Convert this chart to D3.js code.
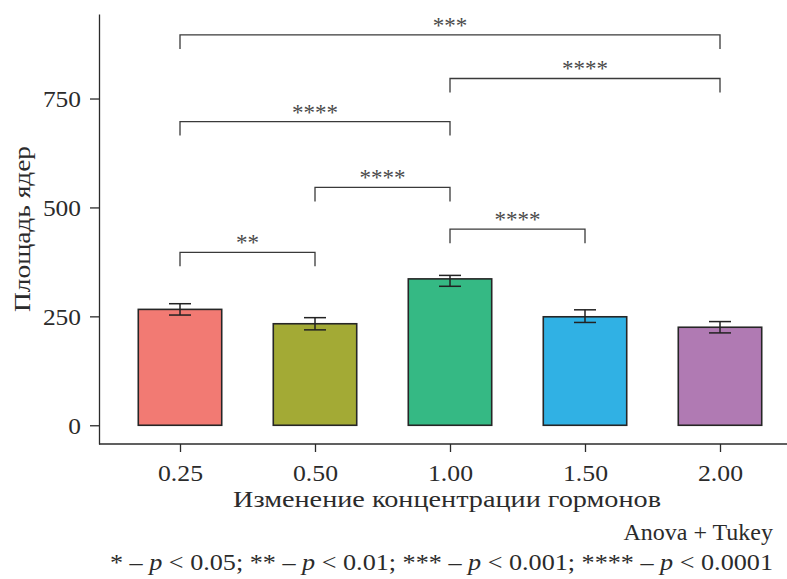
<!DOCTYPE html>
<html>
<head>
<meta charset="utf-8">
<script src="https://cdn.jsdelivr.net/npm/d3@7"></script>
<style>
  html, body { margin: 0; padding: 0; background: #fff; }
  svg { display: block; }
  text { font-family: "Liberation Serif", "DejaVu Serif", serif; }
</style>
</head>
<body>
<svg id="chart" width="787" height="579"></svg>
<script>
// ---- data ----
const categories = ["0.25", "0.50", "1.00", "1.50", "2.00"];
const means = [266, 233, 336, 249, 225];
const errLow = [253, 219, 319, 236, 212];
const errHigh = [279, 247, 344, 265, 238];
const barColors = ["#F27A73", "#A3AA35", "#35B984", "#30B1E4", "#B07AB3"];
const yTicks = [0, 250, 500, 750];

const bracketFrom = ["0.25", "1.00", "0.25", "0.50", "1.00", "0.25"];
const bracketTo = ["2.00", "2.00", "1.00", "1.00", "1.50", "0.50"];
const bracketY = [896, 796, 697, 546, 450, 397];
const bracketLabel = ["***", "****", "****", "****", "****", "**"];

const yTitle = "Площадь ядер";
const xTitle = "Изменение концентрации гормонов";
const testNote = "Anova + Tukey";
const pNote = "* – p < 0.05; ** – p < 0.01; *** – p < 0.001; **** – p < 0.0001";

// ---- layout ----
const svg = d3.select("#chart");
const axisX0 = 99, axisX1 = 787, axisY0 = 444, axisTop = 14;

const y = d3.scaleLinear().domain([-43, 944]).range([axisY0, axisTop]);
const x = d3.scalePoint().domain(categories).range([180, 720]);
const step = x.step();
const barW = step * 0.618;

const ink = "#2b2b2b";

// bars
svg.append("g").selectAll("rect").data(categories).join("rect")
  .attr("x", d => x(d) - barW / 2)
  .attr("y", (d, i) => y(means[i]))
  .attr("width", barW)
  .attr("height", (d, i) => y(0) - y(means[i]))
  .attr("fill", (d, i) => barColors[i])
  .attr("stroke", "#262626")
  .attr("stroke-width", 1.6);

// error bars
const capW = 22;
const eg = svg.append("g").attr("stroke", "#222").attr("stroke-width", 1.5);
categories.forEach((c, i) => {
  const cx = x(c);
  eg.append("line").attr("x1", cx).attr("x2", cx).attr("y1", y(errLow[i])).attr("y2", y(errHigh[i]));
  eg.append("line").attr("x1", cx - capW / 2).attr("x2", cx + capW / 2).attr("y1", y(errLow[i])).attr("y2", y(errLow[i]));
  eg.append("line").attr("x1", cx - capW / 2).attr("x2", cx + capW / 2).attr("y1", y(errHigh[i])).attr("y2", y(errHigh[i]));
});

// brackets
const tip = 14;
const bg = svg.append("g");
bracketY.forEach((v, i) => {
  const x1 = x(bracketFrom[i]), x2 = x(bracketTo[i]), yy = y(v);
  bg.append("path")
    .attr("d", `M${x1},${yy + tip}V${yy}H${x2}V${yy + tip}`)
    .attr("fill", "none").attr("stroke", "#3a3a3a").attr("stroke-width", 1.3);
  bg.append("text")
    .attr("x", (x1 + x2) / 2).attr("y", yy - 2)
    .attr("text-anchor", "middle")
    .attr("font-size", 23).attr("fill", "#4a4a4a")
    .text(bracketLabel[i]);
});

// y axis
const yAxis = svg.append("g").attr("transform", `translate(${axisX0},0)`)
  .call(d3.axisLeft(y).tickValues(yTicks).tickSize(9).tickSizeOuter(0).tickPadding(9));
yAxis.select(".domain").attr("stroke", ink).attr("stroke-width", 1.3);
yAxis.selectAll(".tick line").attr("stroke", ink).attr("stroke-width", 1.3);
yAxis.selectAll(".tick text").attr("font-size", 24).attr("fill", ink)
  .attr("dy", "0.35em")
  .attr("textLength", d => String(d).length * 12.7)
  .attr("lengthAdjust", "spacingAndGlyphs");

// x axis
const xAxis = svg.append("g").attr("transform", `translate(0,${axisY0})`)
  .call(d3.axisBottom(x).tickSize(8).tickSizeOuter(0).tickPadding(13));
xAxis.select(".domain").remove();
xAxis.append("line").attr("x1", axisX0).attr("x2", axisX1).attr("y1", 0).attr("y2", 0)
  .attr("stroke", ink).attr("stroke-width", 1.3);
xAxis.selectAll(".tick line").attr("stroke", ink).attr("stroke-width", 1.3);
xAxis.selectAll(".tick text").attr("font-size", 23).attr("fill", ink)
  .attr("dy", "0.71em")
  .attr("textLength", 45)
  .attr("lengthAdjust", "spacingAndGlyphs");

// titles
svg.append("text")
  .attr("transform", `translate(30,${(axisTop + axisY0) / 2}) rotate(-90)`)
  .attr("text-anchor", "middle").attr("font-size", 24).attr("fill", ink)
  .attr("textLength", 166).attr("lengthAdjust", "spacingAndGlyphs")
  .text(yTitle);

svg.append("text")
  .attr("x", 447).attr("y", 507)
  .attr("text-anchor", "middle").attr("font-size", 24).attr("fill", ink)
  .attr("textLength", 428).attr("lengthAdjust", "spacingAndGlyphs")
  .text(xTitle);

svg.append("text")
  .attr("x", 773).attr("y", 540)
  .attr("text-anchor", "end").attr("font-size", 24).attr("fill", ink)
  .text(testNote);

const pn = svg.append("text")
  .attr("x", 110).attr("y", 570)
  .attr("text-anchor", "start").attr("font-size", 24).attr("fill", ink)
  .attr("textLength", 663).attr("lengthAdjust", "spacingAndGlyphs");
pn.append("tspan").text("* – ");
pn.append("tspan").attr("font-style", "italic").text("p");
pn.append("tspan").text(" < 0.05; ** – ");
pn.append("tspan").attr("font-style", "italic").text("p");
pn.append("tspan").text(" < 0.01; *** – ");
pn.append("tspan").attr("font-style", "italic").text("p");
pn.append("tspan").text(" < 0.001; **** – ");
pn.append("tspan").attr("font-style", "italic").text("p");
pn.append("tspan").text(" < 0.0001");
</script>
</body>
</html>
